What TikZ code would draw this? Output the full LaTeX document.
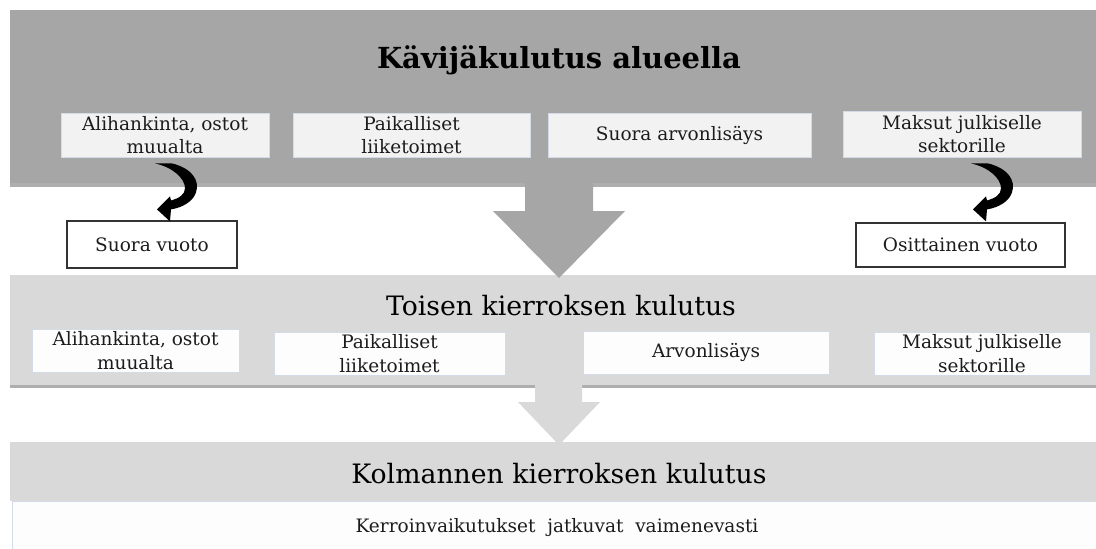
\documentclass[tikz,border=0pt]{standalone}
\usepackage{fontspec}
\setmainfont{DejaVu Serif}
\usetikzlibrary{calc}
\definecolor{pdark}{HTML}{A6A6A6}
\definecolor{plight}{HTML}{D9D9D9}
\definecolor{bfill}{HTML}{F2F2F2}
\definecolor{wfill}{HTML}{FDFDFD}
\definecolor{bline}{HTML}{D3DAE8}
\definecolor{shad}{HTML}{8C8C8C}
\definecolor{txt}{HTML}{1C1C1C}
\tikzset{
  graybox/.style={rectangle, fill=bfill, draw=bline, line width=0.8pt, inner sep=0pt,
    align=center, text=txt, font=\fontsize{18.5}{23.5}\selectfont},
  whitebox/.style={graybox, fill=wfill},
  leakbox/.style={rectangle, fill=white, draw=black!80, line width=1.3pt, inner sep=0pt,
    align=center, text=txt, font=\fontsize{18.5}{23.5}\selectfont},
  paneltitle/.style={anchor=base, inner sep=0pt, text=black, font=\fontsize{26.7}{30}\selectfont},
  pics/curvarrow/.style={code={
    \fill[black] (17,0) .. controls (37,5) and (45,17) .. (41,29)
      .. controls (38,38) and (28,44) .. (16,46) -- (15,58) -- (2,46) -- (15,33) -- (16,37)
      .. controls (24,35) and (30,31) .. (30,25) .. controls (30,15) and (18,4) .. (0,0) -- cycle;
  }}
}
\begin{document}
\begin{tikzpicture}[x=1pt,y=-1pt]
\useasboundingbox (0,0) rectangle (1096,549);
\fill[white] (0,0) rectangle (1096,549);
% panel 1
\fill[shad, opacity=0.7] (10,14) rectangle (1096,187);
\fill[pdark] (10,10) rectangle (1096,183);
% panel 2
\fill[shad, opacity=0.7] (10,278) rectangle (1096,388);
\fill[plight] (10,275) rectangle (1096,385);
% panel 3
\fill[plight] (10,442) rectangle (1096,501);
\filldraw[fill=wfill, draw=bline, line width=0.8pt] (12,501) rectangle (1097,550);
% big arrows
\fill[pdark] (525,180) -- (593,180) -- (593,211) -- (625,211) -- (559,278) -- (493,211) -- (525,211) -- cycle;
\fill[plight] (535,383) -- (582,383) -- (582,402) -- (600,402) -- (559,445) -- (518,402) -- (535,402) -- cycle;
% titles
\node[paneltitle, font=\fontsize{29}{34}\selectfont\bfseries] (t1) at (559,68) {Kävijäkulutus alueella};
\node[paneltitle] (t2) at (561,315) {Toisen kierroksen kulutus};
\node[paneltitle] (t3) at (559,483) {Kolmannen kierroksen kulutus};
\node[anchor=base, inner sep=0pt, text=txt, font=\fontsize{18.5}{22}\selectfont] (t4) at (557,532) {Kerroinvaikutukset\ \ jatkuvat\ \ vaimenevasti};
% top boxes
\node[graybox, minimum width=208pt, minimum height=44pt] (a1) at (165,135) {Alihankinta, ostot\\muualta};
\node[graybox, minimum width=237pt, minimum height=44pt] (a2) at (411.5,135) {Paikalliset\\liiketoimet};
\node[graybox, minimum width=263pt, minimum height=44pt] (a3) at (679.5,135) {Suora arvonlisäys};
\node[graybox, minimum width=238pt, minimum height=46pt] (a4) at (962,134) {Maksut julkiselle\\sektorille};
% leak boxes
\node[leakbox, minimum width=170pt, minimum height=47pt] (sv) at (152,244.5) {Suora vuoto};
\node[leakbox, minimum width=209pt, minimum height=44pt] (ov) at (960.5,245) {Osittainen vuoto};
% second round boxes
\node[whitebox, minimum width=207pt, minimum height=43pt] (b1) at (135.5,350.5) {Alihankinta, ostot\\muualta};
\node[whitebox, minimum width=231pt, minimum height=43pt] (b2) at (389.5,353.5) {Paikalliset\\liiketoimet};
\node[whitebox, minimum width=246pt, minimum height=43pt] (b3) at (706,352.5) {Arvonlisäys};
\node[whitebox, minimum width=216pt, minimum height=43pt] (b4) at (982,353.5) {Maksut julkiselle\\sektorille};
% curved leak arrows
\coordinate (c1) at ($(a1.south)+(-10,6)$);
\coordinate (c2) at ($(a4.south)+(9,6)$);
\pic at (c1) {curvarrow};
\pic at (c2) {curvarrow};
\end{tikzpicture}
\end{document}
